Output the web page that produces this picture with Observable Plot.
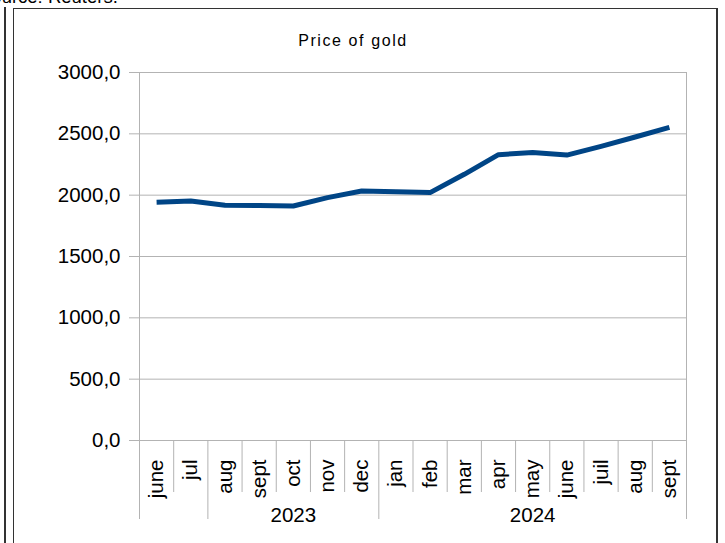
<!DOCTYPE html>
<html>
<head>
<meta charset="utf-8">
<script src="https://cdn.jsdelivr.net/npm/d3@7"></script>
<script src="https://cdn.jsdelivr.net/npm/@observablehq/plot@0.6"></script>
<style>
  html, body { margin: 0; padding: 0; background: #fff; overflow: hidden; }
  #wrap { position: relative; width: 725px; height: 543px; overflow: hidden; font-family: "Liberation Sans", Arial, sans-serif; }
  #chart { position: absolute; left: 0; top: 0; }
  .src { position: absolute; left: -21px; top: -12px; font-size: 18.5px; line-height: 18.5px; color: #000; white-space: nowrap; }
  .vline { position: absolute; left: 4px; top: 7px; width: 2px; height: 540px; background: #333; }
  .box { position: absolute; left: 13px; top: 8px; width: 702px; height: 600px; border: 1px solid #333; border-right-width: 2px; }
  .title { position: absolute; left: 253px; width: 200px; top: 33px; text-align: center; font-size: 16px; line-height: 16px; letter-spacing: 1.6px; color: #000; white-space: nowrap; }
</style>
</head>
<body>
<div id="wrap">
  <div class="src">Source: Reuters.</div>
  <div class="vline"></div>
  <div class="box"></div>
  <div class="title">Price of gold</div>
  <div id="chart"></div>
</div>
<script>
const months = ["june","jul","aug","sept","oct","nov","dec","jan","feb","mar","apr","may","june","juil","aug","sept"];
const prices = [1943, 1952, 1918, 1916, 1912, 1980, 2034, 2028, 2021, 2170, 2330, 2348, 2327, 2398, 2474, 2552];
const groupLabels = ["", "2023", "2024"];
const groupStarts = [0, 2, 7];
const groupEnds = [1, 6, 15];
const yTicks = [0, 500, 1000, 1500, 2000, 2500, 3000];

const idx = months.map((_, i) => i);
const data = idx.map(i => ({i, month: months[i], price: prices[i]}));
const groupCenters = groupStarts.map((s, g) => (s + groupEnds[g]) / 2);
const boundaries = [groupStarts[0] - 0.5, ...groupEnds.map(e => e + 0.5)];
const innerBoundaries = boundaries.slice(1, -1);
const outerBoundaries = [boundaries[0], boundaries[boundaries.length - 1]];
const monthSeps = idx.slice(1).map(i => i - 0.5).filter(v => !innerBoundaries.includes(v));
const fmt = d => d.toFixed(1).replace(".", ",");
const grid = "#b3b3b3";
const font = "Liberation Sans, Arial, sans-serif";

const chart = Plot.plot({
  width: 725,
  height: 543,
  marginLeft: 139,
  marginRight: 39,
  marginTop: 72,
  marginBottom: 103,
  style: {fontFamily: font, background: "transparent", overflow: "visible"},
  x: {type: "linear", domain: [-0.5, months.length - 0.5], axis: null, label: null},
  y: {domain: [0, 3000], axis: null, label: null},
  marks: [
    Plot.ruleY(yTicks, {stroke: grid, strokeWidth: 1, insetLeft: -10}),
    Plot.ruleX(outerBoundaries, {stroke: grid, strokeWidth: 1, insetBottom: -79}),
    Plot.axisX(innerBoundaries, {anchor: "bottom", label: null, tickSize: 79, stroke: grid, tickFormat: () => ""}),
    Plot.axisX(monthSeps, {anchor: "bottom", label: null, tickSize: 52, stroke: grid, tickFormat: () => ""}),
    Plot.axisX(idx, {anchor: "bottom", label: null, tickSize: 0, tickPadding: 19, rotate: -90, textAnchor: "end", lineAnchor: "middle",
      tickFormat: i => months[i], fontSize: 20.5, fill: "#000"}),
    Plot.axisX(groupCenters, {anchor: "bottom", label: null, tickSize: 0, tickPadding: 67,
      tickFormat: (c) => groupLabels[groupCenters.indexOf(c)], fontSize: 20.5, fill: "#000"}),
    Plot.axisY(yTicks, {anchor: "left", label: null, tickSize: 0, tickPadding: 19, tickFormat: fmt, fontSize: 20.5, fill: "#000"}),
    Plot.line(data, {x: "i", y: "price", stroke: "#004586", strokeWidth: 5, strokeLinecap: "butt", strokeLinejoin: "round"})
  ]
});
document.getElementById("chart").appendChild(chart);
</script>
</body>
</html>
